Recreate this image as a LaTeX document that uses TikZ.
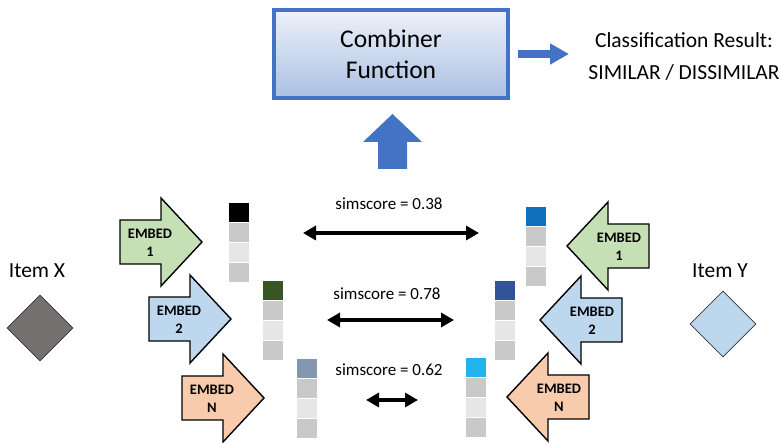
\documentclass[tikz,border=0pt]{standalone}
\usepackage{fontspec}
\setmainfont{Carlito}
\usepackage{xcolor}
\usetikzlibrary{shapes.geometric, arrows.meta, positioning, calc}
\definecolor{CombBlue}{HTML}{4472C4}
\definecolor{CombTop}{HTML}{EDF1F9}
\definecolor{CombBot}{HTML}{ABC0E3}
\definecolor{EmbGreen}{HTML}{C5E0B4}
\definecolor{EmbBlue}{HTML}{BDD7EE}
\definecolor{EmbPeach}{HTML}{F8CBAD}
\definecolor{ItemGray}{HTML}{767171}
\definecolor{VecGreen}{HTML}{375623}
\definecolor{VecSlate}{HTML}{8497B0}
\definecolor{VecBlue}{HTML}{0F70BE}
\definecolor{VecNavy}{HTML}{2F5597}
\definecolor{VecCyan}{HTML}{22B2EE}
\definecolor{CellGray}{HTML}{C9C9C9}
\definecolor{CellLight}{HTML}{E7E6E6}

\tikzset{
  embedshape/.style={draw=black, line width=1.4pt, line join=miter},
  embedtxt/.style={font=\fontsize{14.5}{17.5}\selectfont\bfseries, align=center, inner sep=0pt},
  simtxt/.style={font=\fontsize{17}{20}\selectfont, inner sep=0pt},
  simarrow/.style={{Triangle[length=13pt,width=14pt]}-{Triangle[length=13pt,width=14pt]}, line width=3.5pt},
  cell/.style={draw=white, line width=1pt},
  itembox/.style={diamond, draw=black!80, line width=0.8pt, minimum width=66pt, minimum height=66pt, inner sep=0pt},
  itemtxt/.style={font=\fontsize{21.5}{25}\selectfont, inner sep=0pt}
}

\begin{document}
\begin{tikzpicture}[x=1pt, y=-1pt]
\useasboundingbox (0,0) rectangle (782,443);

% combiner and result
\node[draw=CombBlue, top color=CombTop, bottom color=CombBot, line width=4pt,
      minimum width=234pt, minimum height=88pt, align=center,
      font=\fontsize{25.5}{31}\selectfont] (comb) at (391,54) {Combiner\\Function};
\node[font=\fontsize{21.5}{32}\selectfont, align=center, inner sep=0pt] (result) at (684,56)
  {Classification Result:\\SIMILAR / DISSIMILAR};
\draw[-{Triangle[length=19pt,width=20pt]}, line width=8pt, CombBlue]
  ([xshift=8pt]comb.east) -- ++(51,0);
\fill[CombBlue] (378,169) -- (378,142) -- (363,142) -- (392.5,114) -- (422,142)
  -- (407,142) -- (407,169) -- cycle;

% items
\node[itemtxt] (itemXlab) at (37,271) {Item X};
\node[itembox, fill=ItemGray] (itemX) at (40,328) {};
\node[itemtxt] (itemYlab) at (720,271) {Item Y};
\node[itembox, fill=EmbBlue] (itemY) at (723,324) {};

% embedding arrows
\foreach \bx/\my/\col/\lab/\nm in {120/242/EmbGreen/1/embL1, 149/319/EmbBlue/2/embL2, 182/398/EmbPeach/N/embL3}{
  \draw[embedshape, fill=\col] (\bx,\my-22) -- ++(41,0) -- ++(0,-22) -- ++(41,44)
    -- ++(-41,44) -- ++(0,-22) -- ++(-41,0) -- cycle;
  \node[embedtxt] (\nm) at (\bx+30,\my+1) {EMBED\\\lab};
}
\foreach \rx/\my/\col/\lab/\nm in {649/246/EmbGreen/1/embR1, 622/320/EmbBlue/2/embR2, 589/397/EmbPeach/N/embR3}{
  \draw[embedshape, fill=\col] (\rx,\my-22) -- ++(-41,0) -- ++(0,-22) -- ++(-41,44)
    -- ++(41,44) -- ++(0,-22) -- ++(41,0) -- cycle;
  \node[embedtxt] (\nm) at (\rx-30,\my+1) {EMBED\\\lab};
}

% vectors
\foreach \vx/\vy/\tc in {228/203/black, 262/281/VecGreen, 296/359/VecSlate,
                         525/207/VecBlue, 494/281/VecNavy, 465/358/VecCyan}{
  \draw[cell, fill=\tc] (\vx,\vy) rectangle ++(21,20);
  \draw[cell, fill=CellGray] (\vx,\vy+20) rectangle ++(21,20);
  \draw[cell, fill=CellLight] (\vx,\vy+40) rectangle ++(21,20);
  \draw[cell, fill=CellGray] (\vx,\vy+60) rectangle ++(21,20);
}

% similarity scores
\coordinate (s1l) at (303,233); \coordinate (s1r) at (479,233);
\coordinate (s2l) at (327,320); \coordinate (s2r) at (454,320);
\coordinate (s3l) at (366,400); \coordinate (s3r) at (418,400);
\node[simtxt] (sim1) at (389,204) {simscore = 0.38};
\node[simtxt] (sim2) at (387,294) {simscore = 0.78};
\node[simtxt] (sim3) at (389,370) {simscore = 0.62};
\draw[simarrow] (s1l) -- (s1r);
\draw[simarrow] (s2l) -- (s2r);
\draw[simarrow] (s3l) -- (s3r);
\end{tikzpicture}
\end{document}
